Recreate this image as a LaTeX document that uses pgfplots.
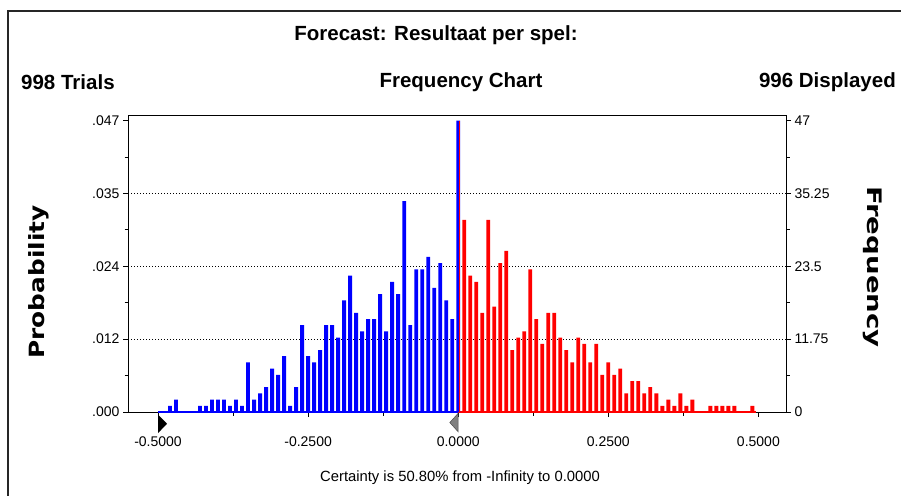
\documentclass[border=0pt]{standalone}
\usepackage{pgfplots}
\pgfplotsset{compat=1.18}
\usepackage{fontspec}
\setmainfont{Liberation Sans}
\newfontfamily\labfont{DejaVu Sans}

\definecolor{cbblue}{RGB}{0,0,255}
\definecolor{cbred}{RGB}{255,0,0}

\pgfplotsset{
  cbframe/.style={
    at={(128bp,-115bp)}, anchor=north west,
    scale only axis, width=658bp, height=297bp,
    xmin=-0.55, xmax=0.546, ymin=0, ymax=47.9,
    tick align=outside,
    major tick length=5bp, minor tick length=3.5bp,
    tick style={black, line width=0.8bp},
    ytick={0,11.75,23.5,35.25,47},
    minor ytick={5.875,17.625,29.375,41.125},
    y tick label style={font=\fontsize{14bp}{16bp}\selectfont},
    clip=false,
  },
}

\begin{document}
\begin{tikzpicture}
\path[use as bounding box] (0,0) rectangle (901bp,-496bp);
\draw[line width=1.5bp, black!85] (8bp,-496bp) -- (8bp,-11bp) -- (901bp,-11bp);

\begin{axis}[
  cbframe,
  axis line style={line width=1bp, black},
  yticklabels={.000,.012,.024,.035,.047},
  ytick pos=left, xtick pos=bottom,
  xtick={-0.5,-0.25,0,0.25,0.5},
  xticklabels={-0.5000,-0.2500,0.0000,0.2500,0.5000},
  minor xtick={-0.375,-0.125,0.125,0.375},
  x tick label style={font=\fontsize{14bp}{16bp}\selectfont, yshift=-16bp},
  extra y ticks={11.75,23.5,35.25},
  extra y tick labels={},
  extra y tick style={grid=major, major tick length=0pt},
  grid style={black, line width=1.1bp, dash pattern=on 1.1bp off 1.9bp},
]

% baseline of the frequency chart
\addplot[cbblue, line width=2.6bp] coordinates {(-0.5,0) (0,0)};
\addplot[cbred, line width=2.6bp] coordinates {(0,0) (0.496,0)};

% left of the certainty limit
\addplot[ybar, bar width=0.0064, bar shift=0pt, fill=cbblue, draw=none] coordinates {
  (-0.48,1) (-0.47,2) (-0.43,1) (-0.42,1) (-0.41,2) (-0.40,2) (-0.39,2)
  (-0.38,1) (-0.37,2) (-0.36,1) (-0.35,8) (-0.34,2) (-0.33,3) (-0.32,4)
  (-0.31,7) (-0.30,6) (-0.29,9) (-0.28,1) (-0.27,4) (-0.26,14) (-0.25,9)
  (-0.24,8) (-0.23,10) (-0.22,14) (-0.21,14) (-0.20,12) (-0.19,18) (-0.18,22)
  (-0.17,16) (-0.16,13) (-0.15,15) (-0.14,15) (-0.13,19) (-0.12,13) (-0.11,21)
  (-0.10,19) (-0.09,34) (-0.08,14) (-0.07,23) (-0.06,23) (-0.05,25) (-0.04,20)
  (-0.03,24) (-0.02,18) (-0.01,15) (0,47)
};
\addplot[ybar, bar width=0.0015, bar shift=0pt, fill=cbred, draw=none] coordinates {(0.0025,47)};

% right of it
\addplot[ybar, bar width=0.0064, bar shift=0pt, fill=cbred, draw=none] coordinates {
  (0.01,31) (0.02,22) (0.03,21) (0.04,16) (0.05,31) (0.06,17) (0.07,24)
  (0.08,26) (0.09,10) (0.10,12) (0.11,13) (0.12,23) (0.13,15) (0.14,11)
  (0.15,16) (0.16,16) (0.17,12) (0.18,10) (0.19,8) (0.20,12) (0.21,11)
  (0.22,8) (0.23,11) (0.24,6) (0.25,8) (0.26,6) (0.27,7) (0.28,3)
  (0.29,5) (0.30,5) (0.31,3) (0.32,4) (0.33,3) (0.34,1) (0.35,2)
  (0.36,1) (0.37,3) (0.38,1) (0.39,2) (0.42,1) (0.43,1) (0.44,1)
  (0.45,1) (0.46,1) (0.49,1)
};

% range sliders
\addplot[fill=black, draw=none] coordinates {(-0.5,-0.4) (-0.5,-3.4) (-0.485,-1.9)} -- cycle;
\addplot[fill=black!50, draw=black!70, line width=0.5bp] coordinates {(0,-0.2) (0,-3.2) (-0.014,-1.7)} -- cycle;
\end{axis}

\begin{axis}[
  cbframe,
  axis x line=none, axis y line*=right,
  y axis line style={line width=1bp, black},
  yticklabels={0,11.75,23.5,35.25,47},
]
\addplot[draw=none] coordinates {(0,0)};
\end{axis}

\node[font=\bfseries\fontsize{20.5bp}{24bp}\selectfont] at (436bp,-35bp) {Forecast: Resultaat per spel:};
\node[font=\bfseries\fontsize{20.5bp}{24bp}\selectfont, anchor=west, inner sep=0pt] at (21bp,-82bp) {998 Trials};
\node[font=\bfseries\fontsize{20.5bp}{24bp}\selectfont] at (461bp,-82bp) {Frequency Chart};
\node[font=\bfseries\fontsize{20.5bp}{24bp}\selectfont, anchor=east, inner sep=0pt] at (896bp,-82bp) {996 Displayed};
\node[font=\fontsize{14.8bp}{17bp}\selectfont] at (460bp,-478bp) {Certainty is 50.80\% from -Infinity to 0.0000};

\node[rotate=90, font=\labfont\bfseries\fontsize{21bp}{24bp}\selectfont] at (39bp,-282bp) {\scalebox{1.18}[1]{Probability}};
\node[rotate=-90, font=\labfont\bfseries\fontsize{20bp}{23bp}\selectfont] at (873bp,-267bp) {\scalebox{1.38}[1]{Frequency}};
\end{tikzpicture}
\end{document}
